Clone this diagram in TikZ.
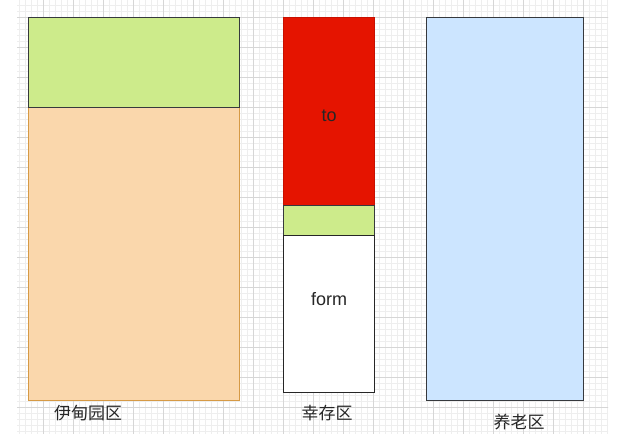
\documentclass[tikz,border=0pt]{standalone}
\usepackage{fontspec}
\setmainfont{Liberation Sans}
\newfontfamily\cjk{Noto Sans CJK SC}
\usetikzlibrary{positioning,calc}
\definecolor{edgegray}{HTML}{36393D}
\definecolor{limegreen}{HTML}{CDEB8B}
\definecolor{peach}{HTML}{FAD7AC}
\definecolor{peachedge}{HTML}{D69A45}
\definecolor{alarmred}{HTML}{E51400}
\definecolor{alarmedge}{HTML}{C81000}
\definecolor{skyblue}{HTML}{CCE5FF}
\definecolor{gridmajor}{HTML}{D6D6D6}
\definecolor{gridminor}{HTML}{EEEEEE}
\tikzset{
    area/.style     = {rectangle, anchor=north west, inner sep=0pt, line width=1.3pt, minimum width=#1},
    edenbox/.style  = {area=211pt, fill=peach, draw=peachedge},
    youngbox/.style = {area=211pt, fill=limegreen, draw=edgegray},
    survbox/.style  = {area=91pt, draw=edgegray},
    oldbox/.style   = {area=157pt, fill=skyblue, draw=edgegray},
    boxtext/.style  = {font=\fontsize{18}{20}\selectfont, text=black!85},
    zonetext/.style = {font=\cjk\fontsize{17}{19}\selectfont, text=black!85}
}
\begin{document}
\begin{tikzpicture}[x=1pt, y=-1pt]
    \useasboundingbox (0,0) rectangle (621,440);
    % background grid
    \begin{scope}
        \clip (17,0) rectangle (608,433);
        \foreach \gx in {1,7,...,613} \draw[gridminor, line width=0.9pt] (\gx,0) -- (\gx,440);
        \foreach \gy in {5,11,...,440} \draw[gridminor, line width=0.9pt] (0,\gy) -- (621,\gy);
        \foreach \gx in {13,43,...,613} \draw[gridmajor, line width=0.9pt] (\gx,0) -- (\gx,440);
        \foreach \gy in {17,47,...,440} \draw[gridmajor, line width=0.9pt] (0,\gy) -- (621,\gy);
    \end{scope}
    % eden
    \node[edenbox, minimum height=293pt]  (eden)   at (28,107)  {};
    \node[youngbox, minimum height=90pt]  (young)  at (28,17)   {};
    % survivor
    \node[survbox, fill=alarmred, draw=alarmedge, minimum height=188pt] (toBox) at (283,17) {};
    \node[survbox, fill=limegreen, minimum height=30pt] (survMid) at (283,205) {};
    \node[survbox, fill=white, draw=black!85, minimum height=157pt] (fromBox) at (283,235) {};
    % old
    \node[oldbox, minimum height=383pt]   (old)    at (426,17)  {};
    % texts
    \node[boxtext] (toText)   at ([yshift=-4pt]toBox.center)    {to};
    \node[boxtext] (formText) at ([yshift=15pt]fromBox.center)  {form};
    \node[zonetext] (edenText) at (88,413)  {伊甸园区};
    \node[zonetext] (survText) at (327,413) {幸存区};
    \node[zonetext] (oldText)  at (519,422) {养老区};
\end{tikzpicture}
\end{document}
